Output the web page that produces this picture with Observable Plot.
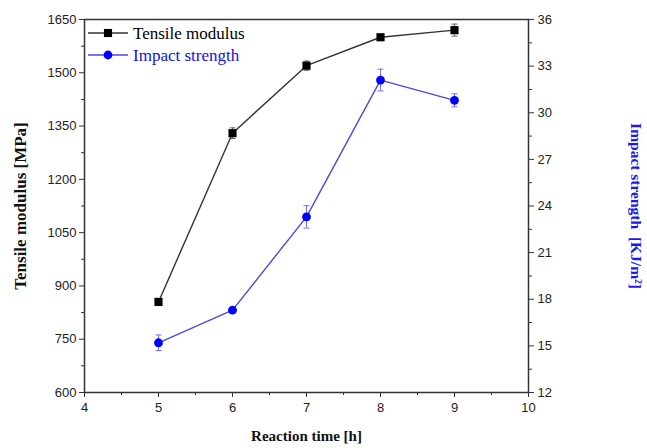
<!DOCTYPE html>
<html>
<head>
<meta charset="utf-8">
<script src="https://cdn.jsdelivr.net/npm/d3@7"></script>
<script src="https://cdn.jsdelivr.net/npm/@observablehq/plot@0.6"></script>
<style>
  html, body { margin: 0; padding: 0; background: #fff; }
  #wrap { position: relative; width: 647px; height: 448px; }
  #legend { position: absolute; left: 0; top: 0; pointer-events: none; }
</style>
</head>
<body>
<div id="wrap"></div>
<script>
// ---- data ----
const time = [5, 6, 7, 8, 9];
const tensile = [855, 1330, 1520, 1600, 1620];
const tensileErr = [0, 15, 13, 8, 17];
const impact = [15.2, 17.3, 23.3, 32.1, 30.8];
const impactErr = [0.5, 0.1, 0.72, 0.7, 0.42];

const xTicks = [4, 5, 6, 7, 8, 9, 10];
const xMinor = [4.5, 5.5, 6.5, 7.5, 8.5, 9.5];
const leftTicks = [600, 750, 900, 1050, 1200, 1350, 1500, 1650];
const leftMinor = [675, 825, 975, 1125, 1275, 1425, 1575];
const rightTicks = [12, 15, 18, 21, 24, 27, 30, 33, 36];
const rightMinor = [13.5, 16.5, 19.5, 22.5, 25.5, 28.5, 31.5, 34.5];

const seriesNames = ["Tensile modulus", "Impact strength"];
const xTitle = "Reaction time [h]";
const yTitle = "Tensile modulus [MPa]";
const y2Title = "Impact strength  [KJ/m²]";

// right-axis scale mapped onto left-axis domain
const toLeft = d3.scaleLinear().domain([12, 36]).range([600, 1650]);

const tData = time.map((t, i) => ({t, v: tensile[i], lo: tensile[i] - tensileErr[i], hi: tensile[i] + tensileErr[i]}));
const iData = time.map((t, i) => ({t, v: toLeft(impact[i]), lo: toLeft(impact[i] - impactErr[i]), hi: toLeft(impact[i] + impactErr[i])}));

const cap = {draw(ctx) { ctx.moveTo(-3, 0); ctx.lineTo(3, 0); }};

const blueLine = "#4a4ade";
const blue = "#0000ff";
const serif = "'Liberation Serif', 'Times New Roman', serif";

const chart = Plot.plot({
  width: 647,
  height: 448,
  marginLeft: 84,
  marginRight: 119,
  marginTop: 19,
  marginBottom: 56,
  x: {domain: [4, 10]},
  y: {domain: [600, 1650]},
  style: {fontFamily: "'Liberation Sans', Arial, sans-serif", fontSize: "13px", color: "#222", background: "#fff"},
  marks: [
    Plot.axisX(xTicks, {tickSize: 5, tickPadding: 5, label: null, stroke: "#333", tickFormat: d => String(d)}),
    Plot.axisX(xMinor, {tickSize: 3, tickFormat: () => "", label: null, stroke: "#333"}),
    Plot.axisY(leftTicks, {tickSize: 5, tickPadding: 3, label: null, stroke: "#333", tickFormat: d => String(d)}),
    Plot.axisY(leftMinor, {tickSize: 3, tickFormat: () => "", label: null, stroke: "#333"}),
    Plot.axisY(rightTicks.map(toLeft), {anchor: "right", tickSize: 5, tickPadding: 4, label: null, stroke: "#333",
      tickFormat: d => String(Math.round(toLeft.invert(d)))}),
    Plot.axisY(rightMinor.map(toLeft), {anchor: "right", tickSize: 3, tickFormat: () => "", label: null, stroke: "#333"}),
    Plot.frame({stroke: "#333", strokeWidth: 1.5}),

    // error bars
    Plot.ruleX(tData.filter(d => d.hi - d.lo > 0), {x: "t", y1: "lo", y2: "hi", stroke: "#666", strokeWidth: 1}),
    Plot.dot(tData.filter(d => d.hi - d.lo > 0), {x: "t", y: "lo", symbol: cap, stroke: "#666", fill: "none", strokeWidth: 1}),
    Plot.dot(tData.filter(d => d.hi - d.lo > 0), {x: "t", y: "hi", symbol: cap, stroke: "#666", fill: "none", strokeWidth: 1}),
    Plot.ruleX(iData.filter(d => d.hi - d.lo > 5), {x: "t", y1: "lo", y2: "hi", stroke: "#7070ff", strokeWidth: 1}),
    Plot.dot(iData.filter(d => d.hi - d.lo > 5), {x: "t", y: "lo", symbol: cap, stroke: "#7070ff", fill: "none", strokeWidth: 1}),
    Plot.dot(iData.filter(d => d.hi - d.lo > 5), {x: "t", y: "hi", symbol: cap, stroke: "#7070ff", fill: "none", strokeWidth: 1}),

    // lines
    Plot.line(tData, {x: "t", y: "v", stroke: "#333", strokeWidth: 1.4}),
    Plot.line(iData, {x: "t", y: "v", stroke: blueLine, strokeWidth: 1.4}),

    // markers
    Plot.dot(tData, {x: "t", y: "v", symbol: "square", r: 4.6, fill: "#000", stroke: "none"}),
    Plot.dot(iData, {x: "t", y: "v", symbol: "circle", r: 4.4, fill: blue, stroke: "none"}),

    // axis titles
    Plot.text([xTitle], {text: d => d, frameAnchor: "bottom", textAnchor: "middle", dy: 48, fontFamily: serif, fontWeight: "bold", fontSize: 15, fill: "#111"}),
    Plot.text([yTitle], {text: d => d, frameAnchor: "left", textAnchor: "middle", dx: -64, rotate: -90, fontFamily: serif, fontWeight: "bold", fontSize: 17, fill: "#111"}),
    Plot.text([y2Title], {text: d => d, frameAnchor: "right", textAnchor: "middle", dx: 107, rotate: 90, fontFamily: serif, fontWeight: "bold", fontSize: 15.5, fill: "#1a1aee"})
  ]
});

const wrap = document.getElementById("wrap");
wrap.appendChild(chart);

// legend overlay
const leg = d3.select(wrap).append("svg").attr("id", "legend").attr("width", 647).attr("height", 448);
const legItems = [
  {name: seriesNames[0], line: "#333", mark: "square", fill: "#000", text: "#000", y: 33},
  {name: seriesNames[1], line: blueLine, mark: "circle", fill: blue, text: "#1010ee", y: 55}
];
for (const it of legItems) {
  leg.append("line").attr("x1", 88).attr("x2", 128).attr("y1", it.y).attr("y2", it.y)
    .attr("stroke", it.line).attr("stroke-width", 1.4);
  leg.append("path").attr("transform", `translate(108,${it.y})`)
    .attr("d", d3.symbol(it.mark === "square" ? d3.symbolSquare : d3.symbolCircle, it.mark === "square" ? 66 : 61)())
    .attr("fill", it.fill);
  leg.append("text").attr("x", 133).attr("y", it.y).attr("dy", "0.35em")
    .attr("font-family", serif).attr("font-size", 17).attr("fill", it.text).text(it.name);
}
</script>
</body>
</html>
